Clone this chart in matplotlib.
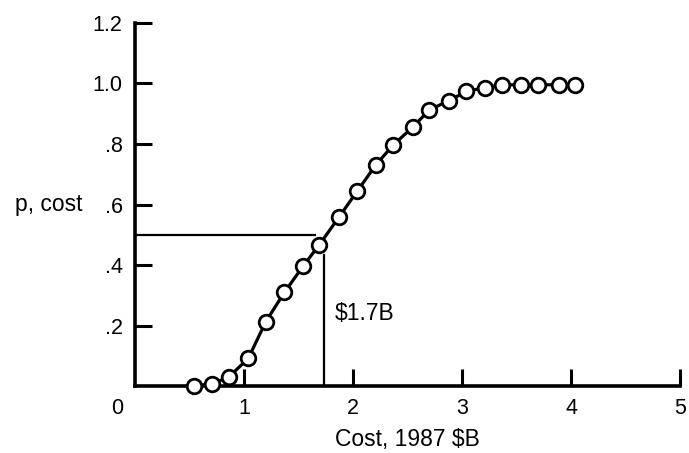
import numpy as np
import matplotlib
matplotlib.use("Agg")
import matplotlib.pyplot as plt

plt.rcParams["font.family"] = ["Liberation Sans", "DejaVu Sans"]

# cumulative probability vs cost (1987 $B)
cost = [0.54, 0.71, 0.86, 1.04, 1.20, 1.37, 1.54, 1.69, 1.87, 2.04, 2.21,
        2.37, 2.55, 2.70, 2.88, 3.04, 3.21, 3.37, 3.54, 3.70, 3.89, 4.04]
prob = [0.002, 0.009, 0.031, 0.093, 0.214, 0.310, 0.396, 0.467, 0.558, 0.645, 0.731,
        0.797, 0.856, 0.912, 0.943, 0.973, 0.986, 0.995, 0.995, 0.995, 0.995, 0.995]

x_ticks = [1, 2, 3, 4, 5]
y_ticks = [0.2, 0.4, 0.6, 0.8, 1.0, 1.2]
y_tick_labels = [".2", ".4", ".6", ".8", "1.0", "1.2"]

median_p = 0.5
median_cost = 1.73

fig = plt.figure(figsize=(6.89, 4.53), dpi=100)
ax = fig.add_axes([0.196, 0.147, 0.791, 0.803])

ax.plot(cost, prob, color="black", lw=2.3, marker="o", ms=10.5,
        mfc="white", mec="black", mew=2.0, zorder=3, clip_on=False)

# reading lines for the 50% point
ax.plot([0, 1.65], [median_p, median_p], color="black", lw=1.6, zorder=2)
ax.plot([median_cost, median_cost], [0, 0.435], color="black", lw=1.6, zorder=2)
ax.text(1.835, 0.241, "$1.7B", fontsize=16.5, ha="left", va="center")

ax.set_xlim(0, 5)
ax.set_ylim(0, 1.2)
ax.set_xticks(x_ticks)
ax.set_xticklabels([str(t) for t in x_ticks])
ax.set_yticks(y_ticks)
ax.set_yticklabels(y_tick_labels)
ax.tick_params(direction="in", length=12, width=2.2, labelsize=15.5)
ax.tick_params(axis="x", pad=8)
ax.tick_params(axis="y", pad=9)

for side in ["top", "right"]:
    ax.spines[side].set_visible(False)
for side in ["left", "bottom"]:
    ax.spines[side].set_linewidth(2.6)

ax.text(-0.165, -0.038, "0", fontsize=15.5, ha="center", va="top", clip_on=False)
ax.set_xlabel("Cost, 1987 $B", fontsize=16.5, labelpad=7)
fig.text(0.022, (453 - 205) / 453, "p, cost", fontsize=16.5, ha="left", va="center")

fig.savefig("out.png", dpi=100)
